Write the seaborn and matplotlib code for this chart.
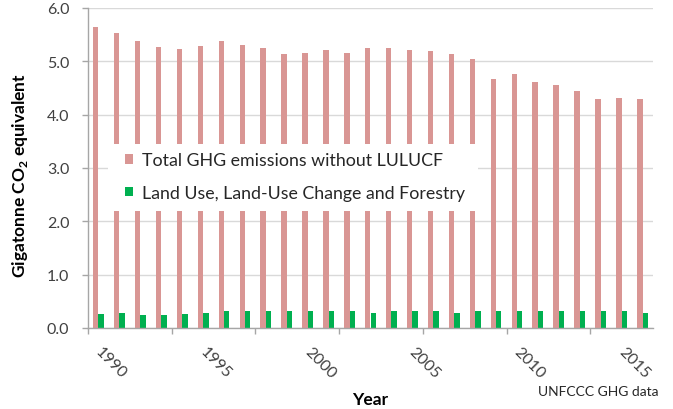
import numpy as np
import pandas as pd
import matplotlib
matplotlib.use("Agg")
import matplotlib.pyplot as plt
import matplotlib.transforms as mtransforms
from matplotlib.patches import Patch, Rectangle
import seaborn as sns

years = list(range(1990, 2017))
total_ghg = [5.64, 5.54, 5.38, 5.27, 5.23, 5.29, 5.39, 5.31, 5.25, 5.14,
             5.16, 5.21, 5.16, 5.25, 5.25, 5.21, 5.19, 5.14, 5.04, 4.67,
             4.77, 4.61, 4.56, 4.45, 4.29, 4.31, 4.29]
lulucf = [0.26, 0.275, 0.24, 0.24, 0.26, 0.275, 0.31, 0.31, 0.325, 0.325,
          0.31, 0.325, 0.31, 0.29, 0.325, 0.31, 0.325, 0.29, 0.325, 0.325,
          0.325, 0.31, 0.31, 0.31, 0.31, 0.31, 0.29]
series_names = ["Total GHG emissions without LULUCF",
                "Land Use, Land-Use Change and Forestry"]
label_years = ["1990", "1995", "2000", "2005", "2010", "2015"]
colors = ["#D99694", "#00B050"]

df = pd.DataFrame({
    "year": [str(y) for y in years] * 2,
    "value": total_ghg + lulucf,
    "series": [series_names[0]] * len(years) + [series_names[1]] * len(years),
})

sns.set_style("white")
plt.rcParams["font.family"] = ["Lato", "DejaVu Sans"]
plt.rcParams["mathtext.fontset"] = "custom"
plt.rcParams["mathtext.rm"] = "Lato"
plt.rcParams["mathtext.bf"] = "Lato:bold"

W, H = 673, 410
fig = plt.figure(figsize=(W / 100, H / 100), dpi=100)
ax = fig.add_axes([88 / W, 1 - 329 / H, (653 - 88) / W, 320 / H])

sns.barplot(data=df, x="year", y="value", hue="series", palette=colors,
            width=0.52, saturation=1, linewidth=0, legend=False, ax=ax)

ax.set_xlim(-0.5, len(years) - 0.5)
ax.set_ylim(0, 6)
ax.set_yticks(np.arange(0, 6.01, 1.0))
ax.set_yticklabels([f"{v:.1f}" for v in np.arange(0, 6.01, 1.0)])
ax.yaxis.grid(True, color="#D9D9D9", lw=1)
ax.xaxis.grid(False)
ax.set_axisbelow(True)
for s in ["top", "right"]:
    ax.spines[s].set_visible(False)
for s in ["left", "bottom"]:
    ax.spines[s].set_color("#A6A6A6")
    ax.spines[s].set_linewidth(1)

ax.tick_params(axis="y", direction="out", length=4, width=1, color="#A6A6A6",
               pad=9.5, labelsize=11.5, labelcolor="#404040", left=True)

label_pos = [years.index(int(y)) for y in label_years]
ax.set_xticks(label_pos)
ax.set_xticklabels(label_years, rotation=-45, ha="left", va="center",
                   rotation_mode="anchor")
ax.set_xticks(np.arange(-0.5, len(years) - 0.5, 4), minor=True)
ax.tick_params(axis="x", which="major", length=0, pad=15, labelsize=11.5,
               labelcolor="#404040", bottom=True)
ax.tick_params(axis="x", which="minor", direction="out", length=4.5, width=1,
               color="#A6A6A6", bottom=True)
off = mtransforms.ScaledTranslation(-1 / 100, 0, fig.dpi_scale_trans)
for lab in ax.get_xticklabels():
    lab.set_transform(lab.get_transform() + off)

ax.set_xlabel("")
ax.set_ylabel("")

fig.text(370 / W, 1 - 400 / H, "Year", ha="center", va="center",
         fontsize=12.5, fontweight="bold", color="black")
fig.text(20 / W, 1 - 175 / H, r"Gigatonne CO$_\mathbf{2}$ equivalent",
         rotation=90, ha="center", va="center", fontsize=12.5,
         fontweight="bold", color="black")
fig.text(538 / W, 1 - 392 / H, "UNFCCC GHG data", ha="left", va="center",
         fontsize=10, color="#262626")

# legend background
ax.add_patch(Rectangle((108 / W, 1 - 212 / H), (478 - 108) / W, 67 / H,
                       transform=fig.transFigure, facecolor="white",
                       edgecolor="none", zorder=4))
handles = [Patch(facecolor=c, edgecolor="none") for c in colors]
leg = ax.legend(handles, series_names, loc="upper left",
                bbox_to_anchor=(125 / W, 1 - 153 / H),
                bbox_transform=fig.transFigure, frameon=False, borderpad=0,
                borderaxespad=0, fontsize=12.8, handlelength=0.46,
                handleheight=0.46, handletextpad=0.5, labelspacing=0.95)
leg.set_zorder(5)
for t in leg.get_texts():
    t.set_color("#262626")

fig.savefig("out.png", dpi=100)
